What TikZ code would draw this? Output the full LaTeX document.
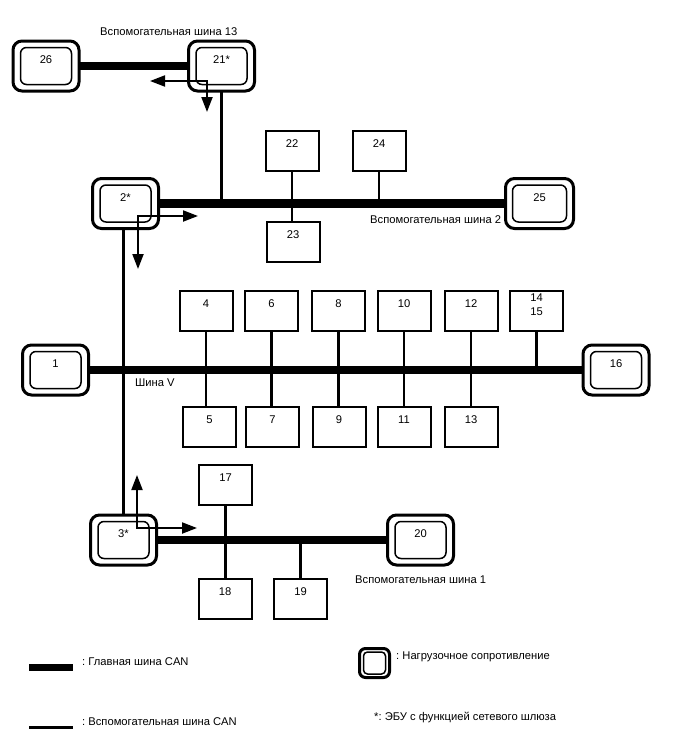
\documentclass[tikz,border=0pt]{standalone}
\usepackage{fontspec}
\setmainfont{Liberation Sans}
\usetikzlibrary{arrows.meta}
\frenchspacing
\begin{document}
\begin{tikzpicture}[x=1pt,y=-1pt,
  font=\fontsize{11.2}{14}\selectfont\frenchspacing,
  ecu/.style={draw,line width=2pt,minimum width=53pt,minimum height=40pt,inner sep=0pt,outer sep=0pt,
              label={[etxt]north:#1}},
  etxt/.style={anchor=center,yshift=-13pt,inner sep=0pt},
  res/.style={draw,line width=3pt,rounded corners=9pt,minimum width=66pt,minimum height=50pt,inner sep=0pt,outer sep=0pt,
              label={[rtxt]north:#1}},
  rtxt/.style={anchor=center,yshift=-19pt,inner sep=0pt},
  resin/.style={draw,line width=1.5pt,rounded corners=6pt,minimum width=51pt,minimum height=37pt,inner sep=0pt},
  mainbus/.style={line width=8.5pt},
  sub/.style={line width=2.6pt},
  arr/.style={line width=2pt,{Triangle[length=15pt,width=11pt]}-{Triangle[length=15pt,width=11pt]}},
  txt/.style={anchor=west,inner sep=0pt}
]
\useasboundingbox (0,0) rectangle (688,755);
\fill[white] (0,0) rectangle (688,755);

% ---- resistor ECUs
\node[res=26] (r26) at (46,66) {};   \node[resin] (r26i) at (r26) {};
\node[res={21*}] (r21) at (221.5,66) {}; \node[resin] (r21i) at (r21) {};
\node[res={2*}] (r2) at (125.5,203.5) {}; \node[resin] (r2i) at (r2) {};
\node[res=25,minimum width=68pt] (r25) at (539.5,203.5) {}; \node[resin,minimum width=54pt] (r25i) at (r25) {};
\node[res=1] (r1) at (55.5,370) {}; \node[resin] (r1i) at (r1) {};
\node[res=16] (r16) at (616,370) {}; \node[resin] (r16i) at (r16) {};
\node[res={3*}] (r3) at (123.5,540) {}; \node[resin] (r3i) at (r3) {};
\node[res=20] (r20) at (420.5,540) {}; \node[resin] (r20i) at (r20) {};

% ---- plain ECUs
\node[ecu=22] (n22) at (292,151) {};
\node[ecu=24] (n24) at (379,151) {};
\node[ecu=23] (n23) at (293,242) {};
\node[ecu=4]  (n4)  at (206,311) {};
\node[ecu=6]  (n6)  at (271.5,311) {};
\node[ecu=8]  (n8)  at (338.5,311) {};
\node[ecu=10] (n10) at (404,311) {};
\node[ecu=12] (n12) at (471,311) {};
\node[ecu={}] (n14) at (536.5,311) {};
\node[etxt,align=center,yshift=-1pt] (n14t) at (n14.north) {14\\15};
\node[ecu=5]  (n5)  at (209.5,427) {};
\node[ecu=7]  (n7)  at (272.5,427) {};
\node[ecu=9]  (n9)  at (339,427) {};
\node[ecu=11] (n11) at (404,427) {};
\node[ecu=13] (n13) at (471,427) {};
\node[ecu=17] (n17) at (225.5,484.5) {};
\node[ecu=18] (n18) at (225,599) {};
\node[ecu=19] (n19) at (300.5,599) {};

% ---- main buses
\draw[mainbus] (r26) -- (r21);
\draw[mainbus] (r2) -- (r25);
\draw[mainbus] (r1) -- (r16);
\draw[mainbus] (r3) -- (r20);

% ---- stubs
\draw[sub] (r21.south) -- (r21.south |- r25);
\draw[sub] (r3.north |- r2.south) -- (r3.north);
\draw[sub] (n22.south) -- (n22.south |- n23.north);
\draw[sub] (n24.south) -- (n24.south |- r25);
\draw[sub] (n4.south) -- (n4.south |- n5.north);
\draw[sub] (n6.south) -- (n6.south |- n7.north);
\draw[sub] (n8.south) -- (n8.south |- n9.north);
\draw[sub] (n10.south) -- (n10.south |- n11.north);
\draw[sub] (n12.south) -- (n12.south |- n13.north);
\draw[sub] (n14.south) -- (n14.south |- r16);
\draw[sub] (n17.south) -- (n17.south |- n18.north);
\draw[sub] (n19.north) -- (n19.north |- r20);

% ---- gateway arrows
\coordinate (a21) at (207,81);  \coordinate (a21l) at (150,81);  \coordinate (a21d) at (207,112);
\draw[arr] (a21l) -- (a21) -- (a21d);
\coordinate (a2) at (138,216);  \coordinate (a2r) at (198,216);  \coordinate (a2d) at (138,269);
\draw[arr] (a2r) -- (a2) -- (a2d);
\coordinate (a3) at (137,528);  \coordinate (a3u) at (137,475);  \coordinate (a3r) at (197,528);
\draw[arr] (a3u) -- (a3) -- (a3r);

% ---- bus labels
\node[txt] (t13) at (100,32) {Вспомогательная шина 13};
\node[txt] (t2)  at (370,220) {Вспомогательная шина 2};
\node[txt] (tV)  at (135,383) {Шина V};
\node[txt] (t1)  at (355,580) {Вспомогательная шина 1};

% ---- legend
\coordinate (lm1) at (29,667); \coordinate (lm2) at (73,667);
\draw[line width=7pt] (lm1) -- (lm2);
\node[txt] (lmt) at (82,662) {: Главная шина CAN};
\coordinate (ls1) at (29,727); \coordinate (ls2) at (73,727);
\draw[line width=3pt] (ls1) -- (ls2);
\node[txt] (lst) at (82,722) {: Вспомогательная шина CAN};
\node[draw,line width=3pt,rounded corners=6pt,minimum width=30pt,minimum height=29pt,inner sep=0pt] (lr) at (374.5,663) {};
\node[draw,line width=1.5pt,rounded corners=4pt,minimum width=22pt,minimum height=22pt,inner sep=0pt] (lri) at (lr) {};
\node[txt] (lrt) at (396,657) {: Нагрузочное сопротивление};
\node[txt] (lgt) at (374,717) {*: ЭБУ с функцией сетевого шлюза};
\end{tikzpicture}
\end{document}
